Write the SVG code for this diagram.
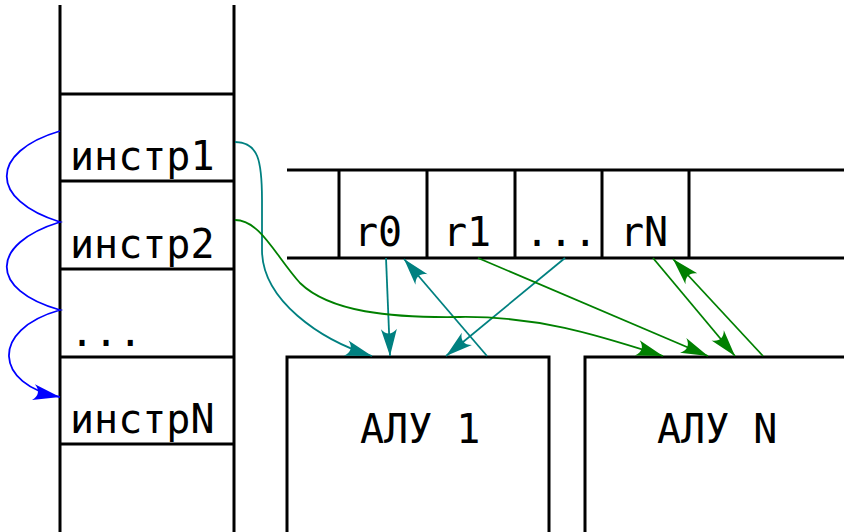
<svg xmlns="http://www.w3.org/2000/svg" width="844" height="532" viewBox="0 0 844 532">
<style>
.ln{stroke:#000;stroke-width:3;fill:none}
.box{stroke:#000;stroke-width:3;fill:#fff}
.t{font-family:"DejaVu Sans Mono","Liberation Mono",monospace;font-size:40px;fill:#000}
.teal{stroke:#008080;stroke-width:1.8;fill:none}
.green{stroke:#008000;stroke-width:1.8;fill:none}
.blue{stroke:#0000ff;stroke-width:1.8;fill:none}
</style>
<defs>
<marker id="aT" viewBox="-30 -12 34 24" markerWidth="34" markerHeight="24" refX="0" refY="0" orient="auto" markerUnits="userSpaceOnUse"><path d="M0,0 L-27,-8 C-21,-3 -21,3 -27,8 Z" fill="#008080"/></marker>
<marker id="aG" viewBox="-30 -12 34 24" markerWidth="34" markerHeight="24" refX="0" refY="0" orient="auto" markerUnits="userSpaceOnUse"><path d="M0,0 L-27,-8 C-21,-3 -21,3 -27,8 Z" fill="#008000"/></marker>
<marker id="aB" viewBox="-30 -12 34 24" markerWidth="34" markerHeight="24" refX="0" refY="0" orient="auto" markerUnits="userSpaceOnUse"><path d="M0,0 L-27,-8 C-21,-3 -21,3 -27,8 Z" fill="#0000ff"/></marker>
</defs>
<rect width="844" height="532" fill="#fff"/>
<g id="instr-column">
<path class="ln" d="M60,5 V532 M234,5 V532 M60,94 H234 M60,181 H234 M60,269 H234 M60,357 H234 M60,444 H234"/>
</g>
<g id="instr1"><text class="t" x="70" y="170">инстр1</text></g>
<g id="instr2"><text class="t" x="70" y="258">инстр2</text></g>
<g id="instr-dots"><text class="t" x="70" y="346">...</text></g>
<g id="instrN"><text class="t" x="70" y="433">инстрN</text></g>
<g id="registers">
<path class="ln" d="M287,170 H844 M287,258 H844 M339,170 V258 M427,170 V258 M515,170 V258 M602,170 V258 M689,170 V258"/>
</g>
<g id="r0"><text class="t" x="354" y="246">r0</text></g>
<g id="r1"><text class="t" x="443" y="246">r1</text></g>
<g id="r-dots"><text class="t" x="525" y="246">...</text></g>
<g id="rN"><text class="t" x="620" y="246">rN</text></g>
<g id="alu1"><rect class="box" x="287" y="357" width="262" height="180"/><text class="t" x="360" y="443">АЛУ 1</text></g>
<g id="aluN"><rect class="box" x="585" y="357" width="262" height="180"/><text class="t" x="657" y="443">АЛУ N</text></g>
<g id="connectors">
<path class="blue" d="M60,131 C-11,152 -11,200 60,222 C-11,244 -11,290 60,310 C-11,330 -5,385 60,397" marker-end="url(#aB)"/>
<path class="teal" d="M235,142 C258,142 262,160 262,200 L262,250 C262,300 320,340 372,356" marker-end="url(#aT)"/>
<path class="teal" d="M386,258 L390,356" marker-end="url(#aT)"/>
<path class="teal" d="M487,356 L404,259" marker-end="url(#aT)"/>
<path class="teal" d="M565,258 L446,356" marker-end="url(#aT)"/>
<path class="green" d="M235,220 C260,220 275,255 300,283 C330,312 390,318 460,317 C540,316 600,336 663,356" marker-end="url(#aG)"/>
<path class="green" d="M478,258 L708,356" marker-end="url(#aG)"/>
<path class="green" d="M653,258 L735,356" marker-end="url(#aG)"/>
<path class="green" d="M763,356 L673,259" marker-end="url(#aG)"/>
</g>
</svg>
